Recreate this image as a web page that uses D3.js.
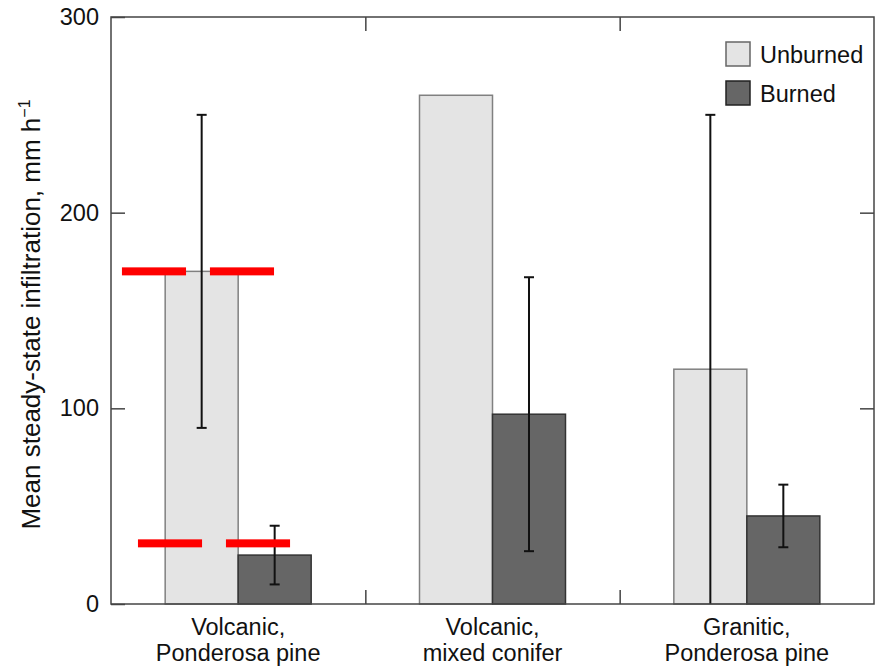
<!DOCTYPE html>
<html>
<head>
<meta charset="utf-8">
<script src="https://cdn.jsdelivr.net/npm/d3@7"></script>
<style>
  body { margin: 0; background: #fff; }
  text { font-family: "Liberation Sans", Arial, Helvetica, sans-serif; fill: #111; }
</style>
</head>
<body>
<svg id="chart" width="883" height="668"></svg>
<script>
// data
const categories = [["Volcanic,", "Ponderosa pine"], ["Volcanic,", "mixed conifer"], ["Granitic,", "Ponderosa pine"]];
const seriesNames = ["Unburned", "Burned"];
const unburnedMean = [170, 260, 120];
const unburnedErr = [[90, 250], null, [0, 250]];
const burnedMean = [25, 97, 45];
const burnedErr = [[10, 40], [27, 167], [29, 61]];
const yTicks = [0, 100, 200, 300];
// red highlight marks: level and x extent in category-index units
const redMarks = [
  { level: 170, x0: 0.043, x1: 0.295 },
  { level: 170, x0: 0.389, x1: 0.641 },
  { level: 31, x0: 0.106, x1: 0.358 },
  { level: 31, x0: 0.452, x1: 0.704 }
];

const svg = d3.select("#chart");
const margin = { top: 17, right: 9, bottom: 64, left: 111 };
const width = 883, height = 668;
const innerW = width - margin.left - margin.right;
const innerH = height - margin.top - margin.bottom;
const fs = "23.5px";

const g = svg.append("g").attr("transform", `translate(${margin.left},${margin.top})`);

const x = d3.scaleBand().domain(d3.range(categories.length)).range([0, innerW]).padding(0);
const xIdx = d3.scaleLinear().domain([0, categories.length]).range([0, innerW]);
const y = d3.scaleLinear().domain([0, 300]).range([innerH, 0]);

const barW = x.bandwidth() * 0.287;
const colors = { Unburned: "#e4e4e4", Burned: "#666666" };
const strokes = { Unburned: "#808080", Burned: "#333333" };

const rows = [];
categories.forEach((c, i) => {
  rows.push({ i, s: "Unburned", v: unburnedMean[i], err: unburnedErr[i], off: -1 });
  rows.push({ i, s: "Burned", v: burnedMean[i], err: burnedErr[i], off: 0 });
});
const cx = d => x(d.i) + x.bandwidth() / 2 + d.off * barW;

// bars
g.selectAll("rect.bar")
  .data(rows)
  .enter().append("rect")
  .attr("class", "bar")
  .attr("x", d => cx(d))
  .attr("y", d => y(d.v))
  .attr("width", barW)
  .attr("height", d => innerH - y(d.v))
  .attr("fill", d => colors[d.s])
  .attr("stroke", d => strokes[d.s])
  .attr("stroke-width", 1.5);

// error bars
const errRows = rows.filter(d => d.err);
g.selectAll("line.err")
  .data(errRows)
  .enter().append("line")
  .attr("x1", d => cx(d) + barW / 2)
  .attr("x2", d => cx(d) + barW / 2)
  .attr("y1", d => y(d.err[0]))
  .attr("y2", d => y(d.err[1]))
  .attr("stroke", "#111")
  .attr("stroke-width", 2);
errRows.forEach(d => {
  d.err.forEach(e => {
    if (e === 0) return;
    g.append("line")
      .attr("x1", cx(d) + barW / 2 - 5)
      .attr("x2", cx(d) + barW / 2 + 5)
      .attr("y1", y(e))
      .attr("y2", y(e))
      .attr("stroke", "#111")
      .attr("stroke-width", 2);
  });
});

// frame and axes
const tickLen = 14;
g.append("rect")
  .attr("width", innerW).attr("height", innerH)
  .attr("fill", "none").attr("stroke", "#444").attr("stroke-width", 1.5);

const yLeft = g.append("g").call(d3.axisLeft(y).tickValues(yTicks).tickSize(-tickLen).tickPadding(12));
yLeft.select(".domain").remove();
yLeft.selectAll("line").attr("stroke", "#444").attr("stroke-width", 1.5);
yLeft.selectAll("text").style("font-size", fs).style("font-family", "Liberation Sans, Arial, sans-serif").attr("fill", "#111");

const yRight = g.append("g").attr("transform", `translate(${innerW},0)`)
  .call(d3.axisRight(y).tickValues(yTicks.slice(1, 3)).tickSize(-tickLen).tickFormat(""));
yRight.select(".domain").remove();
yRight.selectAll("line").attr("stroke", "#444").attr("stroke-width", 1.5);

const sepTicks = [1, 2];
const xBottom = g.append("g").attr("transform", `translate(0,${innerH})`)
  .call(d3.axisBottom(xIdx).tickValues(sepTicks).tickSize(-tickLen).tickFormat(""));
xBottom.select(".domain").remove();
xBottom.selectAll("line").attr("stroke", "#444").attr("stroke-width", 1.5);

const xTop = g.append("g")
  .call(d3.axisTop(xIdx).tickValues(sepTicks).tickSize(-tickLen).tickFormat(""));
xTop.select(".domain").remove();
xTop.selectAll("line").attr("stroke", "#444").attr("stroke-width", 1.5);

// category labels
categories.forEach((c, i) => {
  const t = g.append("text")
    .attr("x", x(i) + x.bandwidth() / 2)
    .attr("y", innerH + 31)
    .attr("text-anchor", "middle")
    .style("font-size", fs);
  c.forEach((line, k) => {
    t.append("tspan").attr("x", x(i) + x.bandwidth() / 2).attr("dy", k === 0 ? 0 : 26).text(line);
  });
});

// y label
const yl = svg.append("text")
  .attr("transform", `translate(40,${margin.top + innerH / 2 + 4}) rotate(-90)`)
  .attr("text-anchor", "middle")
  .style("font-size", "26px")
  .text("Mean steady-state infiltration, mm h");
yl.append("tspan").attr("dy", -10).style("font-size", "16px").text("\u22121");

// legend
const legend = g.append("g").attr("transform", `translate(${innerW - 148},25)`);
seriesNames.forEach((s, k) => {
  legend.append("rect")
    .attr("x", 0).attr("y", k * 39)
    .attr("width", 24).attr("height", 24)
    .attr("fill", colors[s])
    .attr("stroke", s === "Burned" ? "#222" : "#666")
    .attr("stroke-width", 1.5);
  legend.append("text")
    .attr("x", 34).attr("y", k * 39 + 21)
    .style("font-size", fs)
    .text(s);
});

// red highlight marks
g.selectAll("rect.red")
  .data(redMarks)
  .enter().append("rect")
  .attr("class", "red")
  .attr("x", d => xIdx(d.x0))
  .attr("width", d => xIdx(d.x1) - xIdx(d.x0))
  .attr("y", d => y(d.level) - 4)
  .attr("height", 8)
  .attr("fill", "#ff0000");
</script>
</body>
</html>
